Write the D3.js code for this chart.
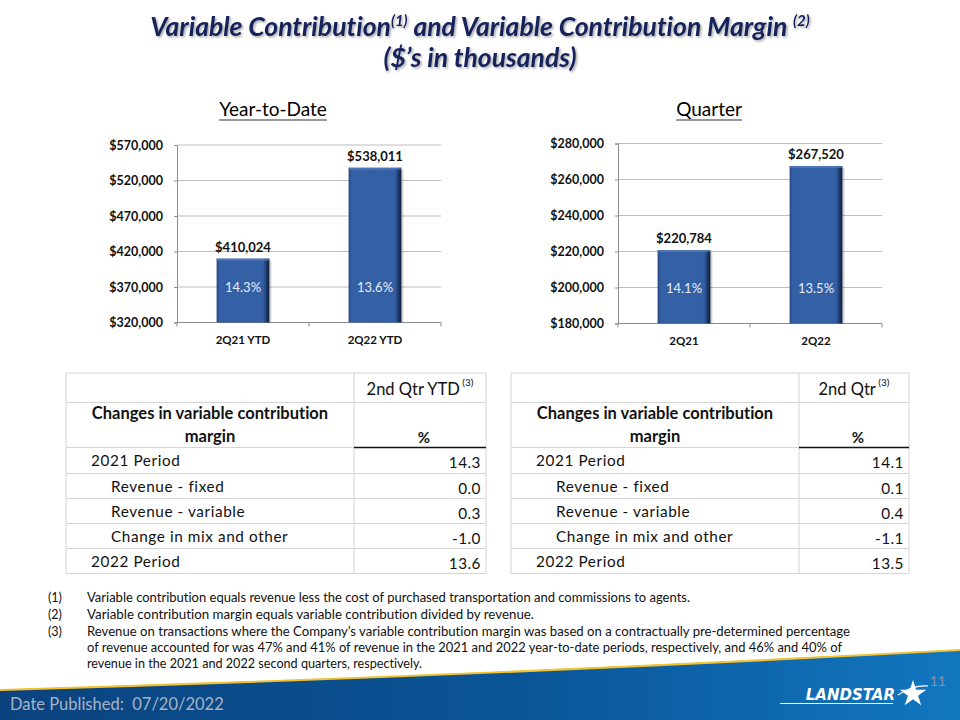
<!DOCTYPE html>
<html><head><meta charset="utf-8">
<script src="https://cdn.jsdelivr.net/npm/d3@7"></script>
<style>html,body{margin:0;padding:0;background:#fff;}svg{display:block;font-variant-ligatures:none;font-feature-settings:"liga" 0,"clig" 0;}</style>
</head><body>
<script>
// ---------- DATA ----------
const ytdCategories = ["2Q21 YTD", "2Q22 YTD"];
const ytdValues = [410024, 538011];
const ytdMargins = ["14.3%", "13.6%"];
const ytdTicks = [320000, 370000, 420000, 470000, 520000, 570000];

const qtrCategories = ["2Q21", "2Q22"];
const qtrValues = [220784, 267520];
const qtrMargins = ["14.1%", "13.5%"];
const qtrTicks = [180000, 200000, 220000, 240000, 260000, 280000];

const tableRowLabels = ["2021 Period", "Revenue - fixed", "Revenue - variable", "Change in mix and other", "2022 Period"];
const tableRowIndent = [false, true, true, true, false];
const ytdTableValues = ["14.3", "0.0", "0.3", "-1.0", "13.6"];
const qtrTableValues = ["14.1", "0.1", "0.4", "-1.1", "13.5"];

const footnotes = [
  ["(1)", "Variable contribution equals revenue less the cost of purchased transportation and commissions to agents."],
  ["(2)", "Variable contribution margin equals variable contribution divided by revenue."],
  ["(3)", "Revenue on transactions where the Company\u2019s variable contribution margin was based on a contractually pre-determined percentage"],
  ["", "of revenue accounted for was 47% and 41% of revenue in the 2021 and 2022 year-to-date periods, respectively, and 46% and 40% of"],
  ["", "revenue in the 2021 and 2022 second quarters, respectively."]
];

// ---------- SVG ----------
const W = 960, H = 720;
const svg = d3.select("body").append("svg").attr("width", W).attr("height", H);
const defs = svg.append("defs");
const FONT = "Lato, 'Open Sans', sans-serif";

const bg = defs.append("linearGradient").attr("id", "barGrad").attr("x1", 0).attr("x2", 1).attr("y1", 0).attr("y2", 0);
bg.append("stop").attr("offset", "0%").attr("stop-color", "#25467f");
bg.append("stop").attr("offset", "6%").attr("stop-color", "#3560a6");
bg.append("stop").attr("offset", "88%").attr("stop-color", "#3360a4");
bg.append("stop").attr("offset", "95%").attr("stop-color", "#1d3566");
bg.append("stop").attr("offset", "100%").attr("stop-color", "#0e1d3d");

const fg = defs.append("linearGradient").attr("id", "footGrad").attr("x1", 0).attr("x2", 1).attr("y1", 0).attr("y2", 0);
fg.append("stop").attr("offset", "0%").attr("stop-color", "#0b437f");
fg.append("stop").attr("offset", "55%").attr("stop-color", "#0a5597");
fg.append("stop").attr("offset", "100%").attr("stop-color", "#1277c0");

const shadow = defs.append("filter").attr("id", "tshadow").attr("x", "-5%").attr("y", "-20%").attr("width", "110%").attr("height", "150%");
shadow.append("feDropShadow").attr("dx", 1.5).attr("dy", 1.5).attr("stdDeviation", 1).attr("flood-color", "#000").attr("flood-opacity", 0.35);

// ---------- TITLE ----------
const title = svg.append("g").attr("fill", "#15205a").attr("font-family", FONT).attr("font-weight", "bold").attr("font-style", "italic").attr("filter", "url(#tshadow)");
const t1 = title.append("text").attr("x", 480).attr("y", 36).attr("text-anchor", "middle").attr("font-size", 26.5);
t1.append("tspan").text("Variable Contribution");
t1.append("tspan").attr("font-size", 15).attr("dy", -10).text("(1)");
t1.append("tspan").attr("dy", 10).text(" and Variable Contribution Margin ");
t1.append("tspan").attr("font-size", 15).attr("dy", -10).text("(2)");
title.append("text").attr("x", 480).attr("y", 67).attr("text-anchor", "middle").attr("font-size", 26.5).text("($\u2019s in thousands)");

function subtitle(txt, cx) {
  const t = svg.append("text").attr("x", cx).attr("y", 116).attr("text-anchor", "middle")
    .attr("font-family", FONT).attr("font-size", 19).attr("fill", "#000").text(txt);
  const bb = t.node().getBBox();
  svg.append("line").attr("x1", bb.x).attr("x2", bb.x + bb.width).attr("y1", 120).attr("y2", 120)
    .attr("stroke", "#333").attr("stroke-width", 1.2);
}
subtitle("Year-to-Date", 273);
subtitle("Quarter", 709);

// ---------- BAR CHARTS ----------
function barChart(cfg) {
  const g = svg.append("g");
  const x = d3.scaleBand().domain(cfg.categories).range([cfg.x0, cfg.x1]).paddingInner(0).paddingOuter(0);
  const y = d3.scaleLinear().domain([cfg.ticks[0], cfg.ticks[cfg.ticks.length - 1]]).range([cfg.yBottom, cfg.yTop]);
  const fmt = d3.format("$,");

  g.selectAll(".grid").data(cfg.ticks.slice(1)).enter().append("line")
    .attr("x1", cfg.x0).attr("x2", cfg.x1).attr("y1", d => y(d)).attr("y2", d => y(d))
    .attr("stroke", "#bdbdbd").attr("stroke-width", 1);

  const ya = g.append("g").attr("transform", `translate(${cfg.x0},0)`)
    .call(d3.axisLeft(y).tickValues(cfg.ticks).tickFormat(fmt).tickSize(3).tickPadding(11));
  ya.select(".domain").attr("stroke", "#8c8c8c");
  ya.selectAll(".tick line").attr("stroke", "#8c8c8c");
  ya.selectAll("text").attr("font-family", FONT).attr("font-weight", "bold").attr("font-size", 12.5).attr("fill", "#111");

  const xa = g.append("g").attr("transform", `translate(0,${cfg.yBottom})`);
  xa.append("line").attr("x1", cfg.x0).attr("x2", cfg.x1).attr("y1", 0).attr("y2", 0).attr("stroke", "#8c8c8c");
  const bounds = cfg.categories.map(c => x(c)).concat([x(cfg.categories[cfg.categories.length - 1]) + x.bandwidth()]);
  xa.selectAll(".xt").data(bounds).enter().append("line")
    .attr("x1", d => d).attr("x2", d => d).attr("y1", 0).attr("y2", 4).attr("stroke", "#8c8c8c");
  xa.selectAll(".xl").data(cfg.categories).enter().append("text")
    .attr("x", d => x(d) + x.bandwidth() / 2).attr("y", 21).attr("text-anchor", "middle")
    .attr("font-family", FONT).attr("font-weight", "bold").attr("font-size", 11.5).attr("fill", "#111").text(d => d);

  const bw = x.bandwidth() * 0.4;
  const data = cfg.categories.map((c, i) => ({ c, v: cfg.values[i], m: cfg.margins[i] }));
  g.selectAll(".bshadow").data(data).enter().append("rect")
    .attr("x", d => x(d.c) + (x.bandwidth() - bw) / 2 + 2).attr("y", d => y(d.v) + 2)
    .attr("width", bw).attr("height", d => cfg.yBottom - y(d.v) - 2).attr("fill", "#000").attr("opacity", 0.18);
  g.selectAll(".bar").data(data).enter().append("rect")
    .attr("x", d => x(d.c) + (x.bandwidth() - bw) / 2).attr("y", d => y(d.v))
    .attr("width", bw).attr("height", d => cfg.yBottom - y(d.v)).attr("fill", "url(#barGrad)");
  g.selectAll(".btop").data(data).enter().append("rect")
    .attr("x", d => x(d.c) + (x.bandwidth() - bw) / 2).attr("y", d => y(d.v))
    .attr("width", bw).attr("height", 2).attr("fill", "#5a7fbf").attr("opacity", 0.7);

  g.selectAll(".vl").data(data).enter().append("text")
    .attr("x", d => x(d.c) + x.bandwidth() / 2).attr("y", d => y(d.v) - 7).attr("text-anchor", "middle")
    .attr("font-family", FONT).attr("font-weight", "bold").attr("font-size", 13).attr("fill", "#111").text(d => fmt(d.v));
  g.selectAll(".ml").data(data).enter().append("text")
    .attr("x", d => x(d.c) + x.bandwidth() / 2).attr("y", y(cfg.ticks[1]) + 5).attr("text-anchor", "middle")
    .attr("font-family", FONT).attr("font-size", 13).attr("fill", "#e8eefa").text(d => d.m);
}

barChart({ categories: ytdCategories, values: ytdValues, margins: ytdMargins, ticks: ytdTicks, x0: 177, x1: 441, yTop: 145, yBottom: 322.5 });
barChart({ categories: qtrCategories, values: qtrValues, margins: qtrMargins, ticks: qtrTicks, x0: 618, x1: 882, yTop: 143.5, yBottom: 323.5 });

// ---------- TABLES ----------
function table(cfg) {
  const g = svg.append("g").attr("font-family", FONT).attr("fill", "#111");
  const xL = cfg.xL, xM = cfg.xM, xR = cfg.xR;
  const hLines = [373, 402.5, 447.5, 473.5, 498.5, 523.5, 548.5, 573.5];
  const gridC = "#d4d4d4";
  g.selectAll(".hl").data(hLines).enter().append("line")
    .attr("x1", xL).attr("x2", xR).attr("y1", d => d).attr("y2", d => d)
    .attr("stroke", gridC).attr("stroke-width", 1);
  g.selectAll(".vl").data([xL, xM, xR]).enter().append("line")
    .attr("x1", d => d).attr("x2", d => d).attr("y1", hLines[0]).attr("y2", hLines[hLines.length - 1])
    .attr("stroke", gridC).attr("stroke-width", 1);
  g.append("line").attr("x1", xM).attr("x2", xR).attr("y1", 447.5).attr("y2", 447.5).attr("stroke", "#111").attr("stroke-width", 1.6);

  const hx = (xM + xR) / 2;
  const ht = g.append("text").attr("x", hx).attr("y", 395).attr("text-anchor", "middle").attr("font-size", 16.5);
  ht.append("tspan").text(cfg.header);
  ht.append("tspan").attr("font-size", 10).attr("dy", -9).text(" (3)");
  g.append("text").attr("x", (xL + xM) / 2).attr("y", 419).attr("text-anchor", "middle").attr("font-weight", "bold").attr("font-size", 16.5).text("Changes in variable contribution");
  g.append("text").attr("x", (xL + xM) / 2).attr("y", 442).attr("text-anchor", "middle").attr("font-weight", "bold").attr("font-size", 16.5).text("margin");
  g.append("text").attr("x", hx + 4).attr("y", 443).attr("text-anchor", "middle").attr("font-weight", "bold").attr("font-size", 15).text("%");

  const rowTops = hLines.slice(2, 7);
  tableRowLabels.forEach((lab, i) => {
    g.append("text").attr("x", xL + (tableRowIndent[i] ? 45 : 25)).attr("y", rowTops[i] + 18)
      .attr("font-size", 15.3).attr("letter-spacing", 0.6).text(lab);
    g.append("text").attr("x", xR - 5).attr("y", rowTops[i] + 20).attr("text-anchor", "end")
      .attr("font-size", 15.3).attr("letter-spacing", 0.5).text(cfg.values[i]);
  });
}
table({ xL: 66, xM: 354, xR: 486, header: "2nd Qtr YTD", values: ytdTableValues });
table({ xL: 511, xM: 799, xR: 909, header: "2nd Qtr", values: qtrTableValues });

// ---------- FOOTNOTES ----------
const fnY = [602, 619, 636, 652, 668];
const fnWidths = [603, 447, 763, 755, 335];
const fnG = svg.append("g").attr("font-family", FONT).attr("font-size", 12.5).attr("fill", "#111");
footnotes.forEach((f, i) => {
  if (f[0]) fnG.append("text").attr("x", 48).attr("y", fnY[i]).text(f[0]);
  fnG.append("text").attr("x", 87).attr("y", fnY[i]).attr("textLength", fnWidths[i]).attr("lengthAdjust", "spacingAndGlyphs").text(f[1]);
});

// ---------- FOOTER ----------
svg.append("path").attr("d", "M0,690 Q480,676 960,650 L960,720 L0,720 Z").attr("fill", "url(#footGrad)");
svg.append("path").attr("d", "M0,690 Q480,676 960,650").attr("fill", "none").attr("stroke", "#f2c230").attr("stroke-width", 2.2);
svg.append("path").attr("d", "M0,687.8 Q480,673.8 960,647.8").attr("fill", "none").attr("stroke", "#ffffff").attr("stroke-width", 1.5);
svg.append("text").attr("x", 10).attr("y", 710).attr("font-family", FONT).attr("font-size", 16.5).attr("fill", "#a8b4c4").attr("xml:space", "preserve").text("Date Published:  07/20/2022");
svg.append("text").attr("x", 946).attr("y", 686).attr("text-anchor", "end").attr("font-family", FONT).attr("font-size", 14).attr("fill", "#7f93ab").text("11");
// logo
svg.append("text").attr("x", 895).attr("y", 700).attr("text-anchor", "end").attr("font-family", "'DejaVu Sans', sans-serif").attr("font-weight", "bold").attr("font-style", "italic").attr("font-size", 15).attr("fill", "#fff").text("LANDSTAR");
svg.append("line").attr("x1", 780).attr("x2", 893).attr("y1", 703.5).attr("y2", 703.5).attr("stroke", "#fff").attr("stroke-width", 1.2);
svg.append("path").attr("d", d3.symbol(d3.symbolStar, 220)()).attr("transform", "translate(913,694)").attr("fill", "#fff");
svg.append("path").attr("d", "M898,695 Q913,685 928,686").attr("fill", "none").attr("stroke", "#fff").attr("stroke-width", 1.2);
</script>
</body></html>
